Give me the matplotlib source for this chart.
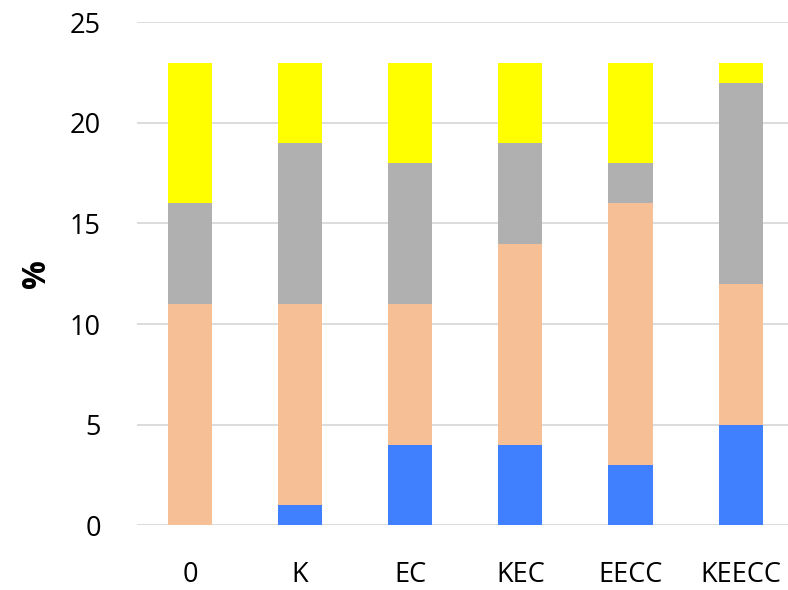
import numpy as np
import matplotlib
matplotlib.use("Agg")
import matplotlib.pyplot as plt

# categories and stacked segment values (%)
groups = ['0', 'K', 'EC', 'KEC', 'EECC', 'KEECC']
blue_part = [0, 1, 4, 4, 3, 5]
peach_part = [11, 10, 7, 10, 13, 7]
gray_part = [5, 8, 7, 5, 2, 10]
yellow_part = [7, 4, 5, 4, 5, 1]

colors = ['#4080FF', '#F7BF96', '#B0B0B0', '#FFFF00']

plt.rcParams['font.family'] = ['Open Sans', 'DejaVu Sans']

fig = plt.figure(figsize=(7.88, 5.9), dpi=100)
ax = fig.add_axes([0.174, 0.110, 0.826, 0.852])

x = np.arange(len(groups))
bottom = np.zeros(len(groups))
for vals, c in zip([blue_part, peach_part, gray_part, yellow_part], colors):
    ax.bar(x, vals, width=0.4, bottom=bottom, color=c, zorder=3)
    bottom += np.array(vals)

ax.set_ylim(0, 25)
ax.set_xlim(-0.48, 5.43)
ax.set_yticks([0, 5, 10, 15, 20, 25])
ax.set_xticks(x)
ax.set_xticklabels(groups)
ax.yaxis.grid(True, color='#D9D9D9', linewidth=1.3, zorder=0)
ax.set_axisbelow(True)
for s in ax.spines.values():
    s.set_visible(False)
ax.tick_params(axis='both', length=0, labelsize=19.5)
ax.tick_params(axis='y', pad=26)
ax.tick_params(axis='x', pad=26)
ax.set_ylabel('%', fontsize=23, fontweight='bold', labelpad=12)

fig.savefig('out.png', dpi=100)
